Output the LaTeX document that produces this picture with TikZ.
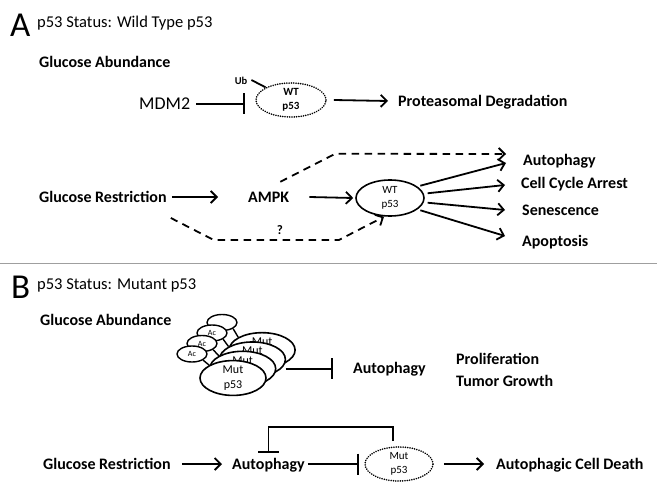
\documentclass[tikz,border=0pt]{standalone}
\usepackage{fontspec}
\setmainfont{Carlito}
\usetikzlibrary{arrows.meta,shapes.geometric}
\begin{document}
\begin{tikzpicture}[x=1pt,y=-1pt,
  lab/.style={font=\bfseries\fontsize{16}{19}\selectfont, text height=10.1pt, text depth=0pt, inner sep=0pt, anchor=west},
  ttl/.style={font=\fontsize{16.5}{19}\selectfont, text height=10.4pt, text depth=0pt, inner sep=0pt, anchor=west},
  big/.style={font=\fontsize{35}{35}\selectfont, inner sep=0pt, anchor=base west},
  conn/.style={line width=1.8pt, -{Straight Barb[length=6pt,width=12pt,line width=1.8pt]}},
  inhib/.style={line width=1.8pt, -{Bar[width=21pt,line width=1.8pt]}},
  dconn/.style={conn, dash pattern=on 7.5pt off 5.5pt},
  oval/.style={ellipse, draw, line width=1.6pt, inner sep=0pt, align=center},
  dotoval/.style={oval, line width=1.8pt, dash pattern=on 0.01pt off 2.3pt, line cap=round},
  mutoval/.style={oval, fill=white, minimum width=66pt, minimum height=31pt, font=\fontsize{12}{15}\selectfont},
  acoval/.style={oval, fill=white, line width=1.4pt, minimum width=30pt, minimum height=16pt, font=\fontsize{8}{9}\selectfont}
]
\fill[white] (0,0) rectangle (657,495);
\useasboundingbox (0,0) rectangle (657,495);

% ---------------- Panel A ----------------
\node[big] (labA) at (10,37) {A};
\node[ttl] (titA) at (37,22) {p53 Status: Wild Type p53};
\node[lab] (gaA) at (39,62) {Glucose Abundance};
\node[font=\fontsize{18}{20}\selectfont, text height=11.4pt, text depth=0pt, inner sep=0pt, anchor=west] (mdm2) at (139,104) {MDM2};
\node[dotoval, minimum width=70pt, minimum height=34pt, font=\bfseries\fontsize{11}{14}\selectfont] (wt1) at (291,100) {WT\\p53};
\node[font=\bfseries\fontsize{10.5}{12}\selectfont, inner sep=0pt] (ub) at (241,81) {Ub};
\node[lab] (prot) at (398,101) {Proteasomal Degradation};

\draw[line width=1.8pt] ([shift={(4pt,1pt)}]ub.east) -- (wt1.north west);
\draw[inhib] ([xshift=6pt]mdm2.east) -- ([xshift=-10pt]mdm2.east -| wt1.west);
\draw[conn] ([xshift=7pt]wt1.east) -- ([xshift=-10pt]prot.west);

\node[lab] (gr1) at (39,197) {Glucose Restriction};
\node[lab] (ampk) at (248,197) {AMPK};
\node[oval, minimum width=68pt, minimum height=36pt, font=\fontsize{11}{14}\selectfont] (wt2) at (390,198) {WT\\p53};
\node[lab] (autA) at (523,160) {Autophagy};
\node[lab] (cca) at (521,183) {Cell Cycle Arrest};
\node[lab] (sen) at (522,210) {Senescence};
\node[lab] (apo) at (522,241) {Apoptosis};
\node[font=\bfseries\fontsize{13}{15}\selectfont, inner sep=0pt] (q) at (280,230) {?};

\draw[conn] ([xshift=5pt]gr1.east) -- ([xshift=-30pt]ampk.west);
\draw[conn] ([xshift=20pt]ampk.east) -- ([xshift=-2pt]wt2.west);
\draw[conn] ([xshift=4pt]wt2.25) -- ([shift={(-17pt,-3pt)}]autA.west);
\draw[conn] ([xshift=4pt]wt2.8) -- ([shift={(-16pt,-2pt)}]cca.west);
\draw[conn] ([xshift=4pt]wt2.-8) -- ([xshift=-17pt]sen.west);
\draw[conn] ([xshift=4pt]wt2.-25) -- ([shift={(-17pt,5pt)}]apo.west);

\draw[dconn] ([shift={(-9pt,10pt)}]ampk.north east) -- ++(55,-28) -- ([shift={(-17pt,6pt)}]autA.west);
\draw[dconn] ([shift={(4pt,-21pt)}]gr1.east) -- ++(43,22) -- ++(125,0) -- ([xshift=-6pt]wt2.south);

\draw[gray!75, line width=1pt] (0,263) -- (657,263);

% ---------------- Panel B ----------------
\node[big] (labB) at (11,298) {B};
\node[ttl] (titB) at (37,284) {p53 Status: Mutant p53};
\node[lab] (gaB) at (40,320) {Glucose Abundance};

\foreach \i in {3,2,1,0} {
  \node[mutoval] (mut\i) at ({233+9.7*\i},{378-9.3*\i}) {Mut\\p53};
  \ifnum\i=3
    \node[acoval] (ac\i) at ({192+10*\i},{354-10.5*\i}) {};
  \else
    \node[acoval] (ac\i) at ({192+10*\i},{354-10.5*\i}) {Ac};
  \fi
  \draw[line width=1.4pt] (ac\i.south east) -- (mut\i.north west);
}

\node[lab] (autB) at (353,368) {Autophagy};
\node[lab] (prolif) at (456,359) {Proliferation};
\node[lab] (tumor) at (456,381) {Tumor Growth};
\draw[inhib] ([xshift=9pt]mut1.east) -- ([xshift=-20pt]mut1.east -| autB.west);

\node[lab] (gr2) at (43,464) {Glucose Restriction};
\node[lab] (autC) at (232,464) {Autophagy};
\node[dotoval, minimum width=68pt, minimum height=34pt, font=\fontsize{11}{14}\selectfont] (mut2) at (399,464) {Mut\\p53};
\node[lab] (acd) at (496,464) {Autophagic Cell Death};

\draw[conn] ([xshift=11pt]gr2.east) -- ([xshift=-10pt]autC.west);
\draw[inhib] ([xshift=3pt]autC.east) -- ([xshift=-5pt]mut2.west);
\draw[inhib] ([shift={(-6pt,5pt)}]mut2.north) -- ++(0,-14) -| ([yshift=6pt]autC.north);
\draw[conn] ([xshift=10pt]mut2.east) -- ([xshift=-12pt]acd.west);
\end{tikzpicture}
\end{document}
